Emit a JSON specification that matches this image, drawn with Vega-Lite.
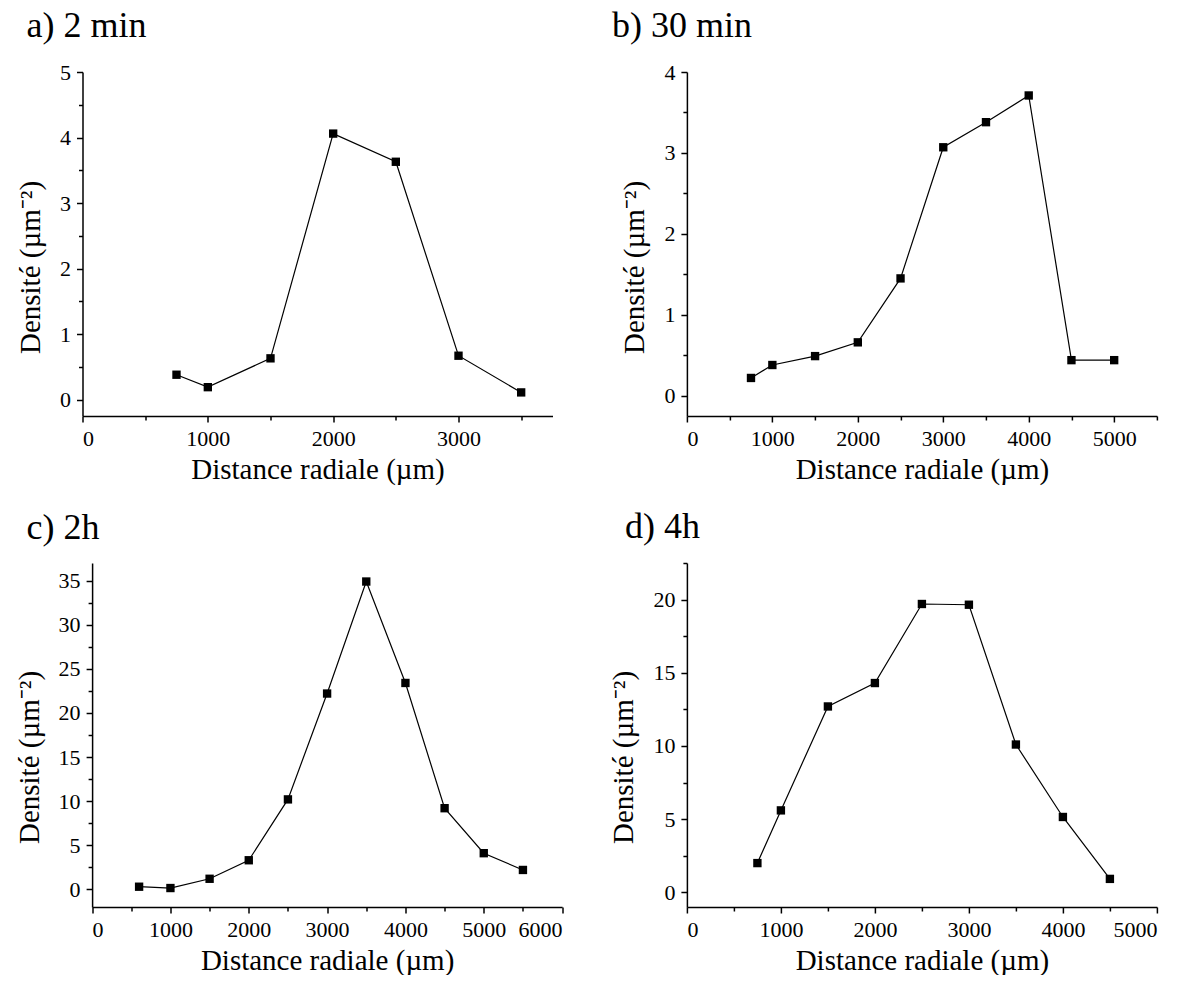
{
  "$schema": "https://vega.github.io/schema/vega-lite/v6.json",
  "background": "white",
  "padding": {"left": 14.5, "top": 8, "right": 0, "bottom": 0},
  "config": {
    "view": {"stroke": null},
    "font": "Liberation Serif",
    "axis": {"domainColor": "black", "domainWidth": 1.5, "tickColor": "black", "tickWidth": 1.5, "tickSize": 6, "labelColor": "black", "labelFont": "Liberation Serif", "labelFontSize": 22, "titleFont": "Liberation Serif", "titleFontSize": 29, "titleFontWeight": "normal", "titleColor": "black", "grid": false, "labelPadding": 6, "titlePadding": 6},
    "axisY": {"titlePadding": 14},
    "title": {"font": "Liberation Serif", "fontSize": 36, "fontWeight": "normal", "anchor": "start", "frame": "group", "color": "black", "baseline": "alphabetic"}
  },
  "datasets": {
    "a": [{"d": 750, "v": 0.38}, {"d": 1000, "v": 0.19}, {"d": 1500, "v": 0.63}, {"d": 2000, "v": 4.06}, {"d": 2500, "v": 3.63}, {"d": 3000, "v": 0.67}, {"d": 3500, "v": 0.11}],
    "b": [{"d": 750, "v": 0.22}, {"d": 1000, "v": 0.38}, {"d": 1500, "v": 0.49}, {"d": 2000, "v": 0.66}, {"d": 2500, "v": 1.45}, {"d": 3000, "v": 3.07}, {"d": 3500, "v": 3.38}, {"d": 4000, "v": 3.71}, {"d": 4500, "v": 0.44}, {"d": 5000, "v": 0.44}],
    "c": [{"d": 600, "v": 0.3}, {"d": 1000, "v": 0.15}, {"d": 1500, "v": 1.2}, {"d": 2000, "v": 3.3}, {"d": 2500, "v": 10.2}, {"d": 3000, "v": 22.2}, {"d": 3500, "v": 34.9}, {"d": 4000, "v": 23.4}, {"d": 4500, "v": 9.2}, {"d": 5000, "v": 4.1}, {"d": 5500, "v": 2.2}],
    "d": [{"d": 750, "v": 2.0}, {"d": 1000, "v": 5.6}, {"d": 1500, "v": 12.7}, {"d": 2000, "v": 14.3}, {"d": 2500, "v": 19.7}, {"d": 3000, "v": 19.65}, {"d": 3500, "v": 10.1}, {"d": 4000, "v": 5.15}, {"d": 4500, "v": 0.92}]
  },
  "columns": 2,
  "bounds": "flush",
  "spacing": {"row": 147, "column": 124.4},
  "concat": [
    {
      "width": 470, "height": 344,
      "title": {"text": "a) 2 min", "dx": -56, "offset": 16},
      "data": {"name": "a"},
      "layer": [
        {"mark": {"type": "line", "color": "black", "strokeWidth": 1.2},
         "encoding": {
           "x": {"field": "d", "type": "quantitative", "scale": {"domain": [0, 3750], "nice": false, "zero": false}, "axis": {"values": [0, 1000, 2000, 3000], "format": "d", "title": "Distance radiale (µm)"}},
           "y": {"field": "v", "type": "quantitative", "scale": {"domain": [-0.25, 5], "nice": false, "zero": false}, "axis": {"values": [0, 1, 2, 3, 4, 5], "title": "Densité (µm⁻²)", "titleY": 195}}
         }},
        {"mark": {"type": "square", "color": "black", "size": 70, "opacity": 1},
         "encoding": {
           "x": {"field": "d", "type": "quantitative", "axis": {"orient": "bottom", "values": [500, 1500, 2500, 3500], "labels": false, "domain": false, "tickSize": 4, "title": null}},
           "y": {"field": "v", "type": "quantitative", "axis": {"orient": "left", "values": [0.5, 1.5, 2.5, 3.5, 4.5], "labels": false, "domain": false, "tickSize": 4, "title": null}}
         }}
      ],
      "resolve": {"axis": {"x": "independent", "y": "independent"}}
    },
    {
      "width": 470, "height": 344,
      "title": {"text": "b) 30 min", "dx": -75, "offset": 16},
      "data": {"name": "b"},
      "layer": [
        {"mark": {"type": "line", "color": "black", "strokeWidth": 1.2},
         "encoding": {
           "x": {"field": "d", "type": "quantitative", "scale": {"domain": [0, 5500], "nice": false, "zero": false}, "axis": {"values": [0, 1000, 2000, 3000, 4000, 5000], "format": "d", "title": "Distance radiale (µm)"}},
           "y": {"field": "v", "type": "quantitative", "scale": {"domain": [-0.25, 4], "nice": false, "zero": false}, "axis": {"values": [0, 1, 2, 3, 4], "title": "Densité (µm⁻²)", "titleY": 195}}
         }},
        {"mark": {"type": "square", "color": "black", "size": 70, "opacity": 1},
         "encoding": {
           "x": {"field": "d", "type": "quantitative", "axis": {"orient": "bottom", "values": [500, 1500, 2500, 3500, 4500, 5500], "labels": false, "domain": false, "tickSize": 4, "title": null}},
           "y": {"field": "v", "type": "quantitative", "axis": {"orient": "left", "values": [0.5, 1.5, 2.5, 3.5], "labels": false, "domain": false, "tickSize": 4, "title": null}}
         }}
      ],
      "resolve": {"axis": {"x": "independent", "y": "independent"}}
    },
    {
      "width": 479.6, "height": 344,
      "title": {"text": "c) 2h", "dx": -56, "offset": 16},
      "data": {"name": "c"},
      "layer": [
        {"mark": {"type": "line", "color": "black", "strokeWidth": 1.2},
         "encoding": {
           "x": {"field": "d", "type": "quantitative", "scale": {"domain": [0, 6000], "range": [9.6, 479.6], "nice": false, "zero": false}, "axis": {"values": [0, 1000, 2000, 3000, 4000, 5000, 6000], "format": "d", "title": "Distance radiale (µm)"}},
           "y": {"field": "v", "type": "quantitative", "scale": {"domain": [-2, 37], "nice": false, "zero": false}, "axis": {"values": [0, 5, 10, 15, 20, 25, 30, 35], "title": "Densité (µm⁻²)", "titleY": 194, "offset": -9.6}}
         }},
        {"mark": {"type": "square", "color": "black", "size": 70, "opacity": 1},
         "encoding": {
           "x": {"field": "d", "type": "quantitative", "axis": {"orient": "bottom", "values": [500, 1500, 2500, 3500, 4500, 5500], "labels": false, "domain": false, "tickSize": 4, "title": null}},
           "y": {"field": "v", "type": "quantitative", "axis": {"orient": "left", "values": [2.5, 7.5, 12.5, 17.5, 22.5, 27.5, 32.5], "labels": false, "domain": false, "tickSize": 4, "title": null, "offset": -9.6}}
         }}
      ],
      "resolve": {"axis": {"x": "independent", "y": "independent"}}
    },
    {
      "width": 470, "height": 344,
      "title": {"text": "d) 4h", "dx": -62, "offset": 16},
      "data": {"name": "d"},
      "layer": [
        {"mark": {"type": "line", "color": "black", "strokeWidth": 1.2},
         "encoding": {
           "x": {"field": "d", "type": "quantitative", "scale": {"domain": [0, 5000], "nice": false, "zero": false}, "axis": {"values": [0, 1000, 2000, 3000, 4000, 5000], "format": "d", "title": "Distance radiale (µm)"}},
           "y": {"field": "v", "type": "quantitative", "scale": {"domain": [-1, 22.5], "nice": false, "zero": false}, "axis": {"values": [0, 5, 10, 15, 20], "title": "Densité (µm⁻²)", "titleY": 194}}
         }},
        {"mark": {"type": "square", "color": "black", "size": 70, "opacity": 1},
         "encoding": {
           "x": {"field": "d", "type": "quantitative", "axis": {"orient": "bottom", "values": [500, 1500, 2500, 3500, 4500], "labels": false, "domain": false, "tickSize": 4, "title": null}},
           "y": {"field": "v", "type": "quantitative", "axis": {"orient": "left", "values": [2.5, 7.5, 12.5, 17.5, 22.5], "labels": false, "domain": false, "tickSize": 4, "title": null}}
         }}
      ],
      "resolve": {"axis": {"x": "independent", "y": "independent"}}
    }
  ]
}
